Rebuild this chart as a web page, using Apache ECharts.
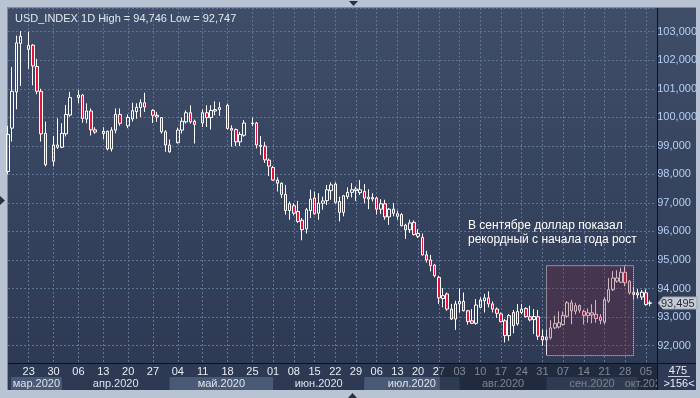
<!DOCTYPE html>
<html>
<head>
<meta charset="utf-8">
<script src="https://cdn.jsdelivr.net/npm/echarts@6/dist/echarts.min.js"></script>
<style>
  html, body { margin: 0; padding: 0; background: #b8c3d3; }
  #panel {
    position: absolute; left: 7px; top: 7px; width: 689px; height: 383px;
    background: linear-gradient(#3f4d69, #2d3953);
    border-left: 1px solid #7f8ba0; border-top: 1px solid #7f8ba0;
    box-sizing: border-box;
  }
  #chart { position: absolute; left: 0; top: 0; width: 700px; height: 398px; }
</style>
</head>
<body>
<div id="panel"></div>
<div id="chart"></div>
<script>
// дни (2020), пустые слоты = выходные без баров
const dates = [
  "03-17", "03-18", "03-19", "03-20", "03-21",
  "03-23", "03-24", "03-25", "03-26", "03-27", "03-28",
  "03-30", "03-31", "04-01", "04-02", "04-03", "04-04",
  "04-06", "04-07", "04-08", "04-09", "04-10", "04-11",
  "04-13", "04-14", "04-15", "04-16", "04-17", "04-18",
  "04-20", "04-21", "04-22", "04-23", "04-24", "04-25",
  "04-27", "04-28", "04-29", "04-30", "05-01", "05-02",
  "05-04", "05-05", "05-06", "05-07", "05-08", "05-09",
  "05-11", "05-12", "05-13", "05-14", "05-15", "05-16",
  "05-18", "05-19", "05-20", "05-21", "05-22", "05-23",
  "05-25", "05-26", "05-27", "05-28", "05-29",
  "06-01", "06-02", "06-03", "06-04", "06-05",
  "06-08", "06-09", "06-10", "06-11", "06-12",
  "06-15", "06-16", "06-17", "06-18", "06-19",
  "06-22", "06-23", "06-24", "06-25", "06-26",
  "06-29", "06-30", "07-01", "07-02", "07-03",
  "07-06", "07-07", "07-08", "07-09", "07-10",
  "07-13", "07-14", "07-15", "07-16", "07-17",
  "07-20", "07-21", "07-22", "07-23", "07-24",
  "07-27", "07-28", "07-29", "07-30", "07-31",
  "08-03", "08-04", "08-05", "08-06", "08-07",
  "08-10", "08-11", "08-12", "08-13", "08-14",
  "08-17", "08-18", "08-19", "08-20", "08-21",
  "08-24", "08-25", "08-26", "08-27", "08-28",
  "08-31", "09-01", "09-02", "09-03", "09-04",
  "09-07", "09-08", "09-09", "09-10", "09-11",
  "09-14", "09-15", "09-16", "09-17", "09-18",
  "09-21", "09-22", "09-23", "09-24", "09-25",
  "09-28", "09-29", "09-30", "10-01", "10-02",
  "10-05", "10-06", "10-07"
];

const opens = [
  98.10, 99.62, 100.89, 102.59, null,
  102.38, 102.53, 101.78, 100.91, 99.44, null,
  98.46, 99.03, 98.95, 99.42, 100.08, null,
  100.69, 100.78, 99.94, 100.22, 99.56, null,
  99.43, 99.51, 98.89, 99.55, 100.10, null,
  99.70, 99.94, 100.20, 100.34, 100.51, null,
  100.24, 100.07, 99.99, 99.49, 99.03, null,
  99.11, 99.55, 99.84, 100.16, 99.86, null,
  99.80, 100.16, 99.99, 100.22, 100.27, null,
  100.42, 99.61, 99.57, 99.14, 99.37, null,
  99.78, 99.80, 98.98, 98.99, 98.50,
  98.24, 97.80, 97.69, 97.30, 96.73,
  96.90, 96.70, 96.39, 96.09, 96.73,
  97.17, 96.64, 96.99, 97.08, 97.43,
  97.66, 97.05, 96.67, 97.22, 97.37,
  97.43, 97.36, 97.40, 97.14, 97.14,
  97.17, 96.78, 96.97, 96.51, 96.78,
  96.53, 96.59, 96.22, 96.06, 96.32,
  95.83, 95.79, 95.18, 95.00, 94.82,
  94.39, 93.65, 93.81, 93.28, 92.93,
  93.46, 93.55, 93.22, 92.87, 92.78,
  93.34, 93.57, 93.67, 93.46, 93.28,
  93.11, 92.87, 92.35, 93.16, 92.76,
  93.16, 93.30, 93.01, 92.91, 93.01,
  92.32, 92.20, 92.27, 92.62, 92.65,
  92.74, 93.03, 93.50, 93.20, 93.40,
  93.20, 93.05, 93.15, 93.10, 93.00,
  92.82, 93.56, 93.96, 94.26, 94.22,
  94.57, 94.26, 93.79, 93.85, 93.70,
  93.85, 93.48, null
];

const closes = [
  99.40, 100.91, 102.61, 102.84, null,
  102.52, 101.80, 100.91, 99.42, 98.34, null,
  99.03, 98.95, 99.44, 100.10, 100.69, null,
  100.78, 99.96, 100.22, 99.56, 99.48, null,
  99.51, 98.89, 99.55, 100.10, 99.79, null,
  99.99, 100.23, 100.35, 100.51, 100.36, null,
  100.07, 100.01, 99.49, 99.03, 98.79, null,
  99.55, 99.86, 100.16, 99.84, 99.75, null,
  100.16, 99.99, 100.24, 100.27, 100.34, null,
  99.61, 99.55, 99.14, 99.40, 99.80, null,
  99.80, 99.03, 99.02, 98.51, 98.29,
  97.80, 97.69, 97.30, 96.73, 96.97,
  96.64, 96.35, 96.06, 96.76, 97.13,
  96.62, 96.99, 97.07, 97.46, 97.63,
  97.02, 96.67, 97.25, 97.37, 97.46,
  97.49, 97.46, 97.17, 97.20, 97.19,
  96.78, 96.97, 96.51, 96.78, 96.64,
  96.62, 96.20, 96.06, 96.30, 95.89,
  95.93, 95.18, 95.00, 94.80, 94.45,
  93.67, 93.75, 93.28, 92.93, 93.46,
  93.55, 93.22, 92.84, 92.78, 93.42,
  93.60, 93.67, 93.46, 93.28, 93.13,
  92.84, 92.35, 93.05, 92.70, 93.19,
  93.28, 93.01, 92.90, 93.02, 92.33,
  92.20, 92.30, 92.62, 92.77, 92.80,
  93.06, 93.50, 93.22, 93.40, 93.24,
  93.06, 93.15, 93.07, 92.95, 92.88,
  93.61, 93.96, 94.37, 94.37, 94.57,
  94.20, 93.85, 93.87, 93.78, 93.87,
  93.44, 93.50, null
];

const lows = [
  98.00, 99.15, 100.28, 101.10, null,
  101.70, 101.12, 100.81, 99.15, 98.28, null,
  98.28, 98.89, 98.92, 99.33, 100.02, null,
  100.49, 99.81, 99.79, 99.36, 99.42, null,
  99.23, 98.84, 98.80, 99.44, 99.70, null,
  99.62, 99.85, 99.95, 100.01, 100.19, null,
  99.80, 99.84, 99.43, 98.79, 98.76, null,
  99.08, 99.43, 99.78, 99.78, 99.08, null,
  99.66, 99.66, 99.57, 100.07, 100.05, null,
  99.57, 98.97, 98.99, 98.99, 99.32, null,
  99.69, 98.91, 98.68, 98.40, 97.94,
  97.78, 97.40, 97.17, 96.59, 96.41,
  96.56, 96.30, 95.69, 95.93, 96.47,
  96.59, 96.41, 96.76, 96.93, 97.11,
  96.97, 96.35, 96.53, 97.13, 97.19,
  97.07, 97.28, 96.99, 96.78, 97.05,
  96.59, 96.61, 96.41, 96.23, 96.53,
  96.41, 96.18, 95.74, 95.95, 95.86,
  95.77, 95.15, 94.91, 94.60, 94.39,
  93.46, 93.34, 93.22, 92.90, 92.55,
  93.16, 93.20, 92.73, 92.76, 92.73,
  93.32, 93.16, 93.34, 93.16, 92.97,
  92.81, 92.11, 92.17, 92.43, 92.70,
  93.10, 92.99, 92.85, 92.41, 92.20,
  92.00, 91.68, 92.21, 92.58, 92.60,
  92.70, 92.97, 92.75, 93.09, 93.15,
  92.74, 92.80, 92.78, 92.80, 92.75,
  92.75, 93.50, 93.91, 94.20, 94.20,
  94.08, 93.79, 93.61, 93.65, 93.60,
  93.40, 93.38, null
];

const highs = [
  99.70, 101.76, 102.86, 103.02, null,
  103.00, 102.56, 102.05, 101.00, 99.85, null,
  99.35, 99.96, 99.79, 100.43, 100.89, null,
  100.95, 100.81, 100.49, 100.31, 99.65, null,
  99.65, 99.53, 99.65, 100.31, 100.31, null,
  100.10, 100.51, 100.49, 100.63, 100.86, null,
  100.28, 100.19, 100.01, 99.55, 99.22, null,
  99.64, 99.99, 100.24, 100.42, 99.92, null,
  100.27, 100.42, 100.42, 100.56, 100.53, null,
  100.48, 99.72, 99.61, 99.49, 99.90, null,
  99.99, 99.84, 99.34, 99.14, 98.56,
  98.29, 97.90, 97.72, 97.63, 97.05,
  96.99, 97.07, 96.47, 96.82, 97.46,
  97.40, 97.34, 97.22, 97.63, 97.72,
  97.72, 97.22, 97.28, 97.55, 97.69,
  97.57, 97.80, 97.66, 97.48, 97.34,
  97.22, 97.13, 97.11, 96.82, 96.99,
  96.73, 96.64, 96.27, 96.41, 96.39,
  96.08, 95.93, 95.32, 95.18, 94.86,
  94.45, 94.02, 93.86, 93.46, 93.57,
  94.00, 93.86, 93.25, 93.28, 93.63,
  93.69, 93.81, 93.90, 93.55, 93.34,
  93.16, 92.93, 93.11, 93.25, 93.46,
  93.46, 93.34, 93.40, 93.28, 93.25,
  92.56, 92.56, 92.89, 93.05, 93.20,
  93.20, 93.56, 93.60, 93.50, 93.44,
  93.26, 93.30, 93.45, 93.60, 93.10,
  93.70, 94.37, 94.61, 94.64, 94.73,
  94.78, 94.29, 94.06, 93.98, 93.95,
  93.97, 93.58, null
];

const monthStarts = ["03-17", "04-01", "05-01", "06-01", "07-01", "08-03", "09-01", "10-01"];
const monthLabels = ["мар.2020", "апр.2020", "май.2020", "июн.2020", "июл.2020", "авг.2020", "сен.2020", "окт.2020"];

const titleText = "USD_INDEX 1D High = 94,746 Low = 92,747";
const noteText = "В сентябре доллар показал\nрекордный с начала года рост";
const lastPrice = 93.495;
const highlightFrom = "09-01";
const highlightTo = "09-30";
const highlightTop = 94.80;
const highlightBottom = 91.65;
const shadeFrom = "07-27";

const fmt = v => v.toFixed(3).replace(".", ",");
const isMonday = (d, i) => {
  if (highs[i] == null) return false;
  const [m, day] = d.split("-").map(Number);
  return new Date(Date.UTC(2020, m - 1, day)).getUTCDay() === 1;
};

const seriesData = dates.map((d, i) =>
  opens[i] == null ? "-" : [opens[i], closes[i], lows[i], highs[i]]
);

const gridLine = { show: true, lineStyle: { color: "#5f7396", type: [2, 2], width: 1 } };
const narrow = "'Liberation Sans Narrow', 'Liberation Sans', Arial, sans-serif";

const chart = echarts.init(document.getElementById("chart"));
chart.setOption({
  backgroundColor: "transparent",
  animation: false,
  title: {
    text: titleText,
    left: 10,
    top: 8,
    textStyle: { color: "#e2e8f0", fontSize: 11, fontWeight: "normal", fontFamily: narrow }
  },
  grid: { left: 8, top: 8, width: 649, height: 355 },
  xAxis: {
    type: "category",
    data: dates,
    boundaryGap: false,
    axisLine: { show: false },
    axisTick: { show: false },
    axisLabel: {
      interval: (i, v) => isMonday(v, i),
      formatter: v => v.split("-")[1],
      color: "#e8edf5",
      fontSize: 11,
      fontFamily: narrow,
      margin: 3
    },
    splitLine: Object.assign({ interval: (i, v) => isMonday(v, i) }, gridLine)
  },
  yAxis: {
    type: "value",
    position: "right",
    min: 91.39,
    max: 103.83,
    splitNumber: 12,
    axisLine: { show: false },
    axisTick: { show: false },
    axisLabel: {
      showMinLabel: false,
      showMaxLabel: false,
      formatter: v => (Number.isInteger(v) ? fmt(v) : ""),
      color: "#b3cff3",
      fontSize: 11,
      fontFamily: narrow,
      margin: 3,
      align: "left"
    },
    splitLine: gridLine
  },
  series: [{
    type: "candlestick",
    data: seriesData,
    barWidth: 3,
    clip: true,
    itemStyle: {
      color: "rgba(0,0,0,0)",
      color0: "#e3143e",
      borderColor: "#ffffff",
      borderColor0: "#ffffff",
      borderWidth: 1
    },
    markArea: {
      z: 5,
      silent: true,
      itemStyle: {
        color: "rgba(112,35,60,0.32)",
        borderColor: "#e6dce6",
        borderWidth: 1,
        borderType: [1, 1]
      },
      data: [[
        { xAxis: highlightFrom, yAxis: highlightTop },
        { xAxis: highlightTo, yAxis: highlightBottom }
      ]]
    }
  }]
});

// нижняя полоса месяцев и оформление рамки
const px = d => chart.convertToPixel({ xAxisIndex: 0 }, dates.indexOf(d));
const gLeft = 8, gRight = 657, axisY = 363, bandTop = 377, bandBottom = 390;
const elements = [];

monthStarts.forEach((m, k) => {
  const x0 = Math.max(px(m), gLeft + 3);
  const x1 = k + 1 < monthStarts.length ? px(monthStarts[k + 1]) : px(dates[dates.length - 1]);
  if (k % 2 === 0) {
    elements.push({
      type: "rect", z: 1,
      shape: { x: x0, y: bandTop, width: Math.min(x1, gRight) - x0, height: bandBottom - bandTop },
      style: { fill: "#4a5a76" }
    });
  }
  elements.push({
    type: "text", z: 2,
    style: {
      text: monthLabels[k], x: (x0 + x1) / 2, y: (bandTop + bandBottom) / 2 + 0.5,
      align: "center", verticalAlign: "middle",
      font: "11px " + narrow, fill: "#dde3ec"
    }
  });
});

// ярлык текущей цены на правой шкале
const priceY = Math.round(chart.convertToPixel({ yAxisIndex: 0 }, lastPrice));
const shadeX = px(shadeFrom) + 1;
elements.push(
  {
    type: "rect", z: 10,
    shape: { x: shadeX, y: axisY + 1, width: gRight - shadeX, height: bandBottom - axisY - 1 },
    style: { fill: "rgba(20,27,44,0.5)" }
  },
  {
    type: "rect", z: 11,
    shape: { x: gRight, y: axisY, width: 696 - gRight, height: bandBottom - axisY },
    style: { fill: "#2f3b56" }
  },
  {
    type: "line", z: 12,
    shape: { x1: gRight + 0.5, y1: 8, x2: gRight + 0.5, y2: bandBottom },
    style: { stroke: "#0d1118", lineWidth: 1 }
  },
  {
    type: "line", z: 12,
    shape: { x1: gLeft, y1: axisY + 0.5, x2: 696, y2: axisY + 0.5 },
    style: { stroke: "#0d1118", lineWidth: 1 }
  },
  {
    type: "polygon", z: 12,
    shape: { points: [[gRight + 1, priceY], [gRight + 6, priceY - 6], [697, priceY - 6], [697, priceY + 6], [gRight + 6, priceY + 6]] },
    style: { fill: "#c6cad2", stroke: "#9aa2b0", lineWidth: 1 }
  },
  {
    type: "text", z: 13,
    style: { text: fmt(lastPrice), x: 661, y: priceY + 0.5, verticalAlign: "middle", font: "11px " + narrow, fill: "#1f2a3e" }
  },
  {
    type: "text", z: 12,
    style: { text: "475", x: 678, y: 371, align: "center", verticalAlign: "middle", font: "11px " + narrow, fill: "#e8edf5" }
  },
  {
    type: "line", z: 12,
    shape: { x1: 668, y1: 376.5, x2: 690, y2: 376.5 },
    style: { stroke: "#c8d0dc", lineWidth: 1 }
  },
  {
    type: "text", z: 12,
    style: { text: ">156<", x: 679, y: 383.5, align: "center", verticalAlign: "middle", font: "11px " + narrow, fill: "#e8edf5" }
  },
  {
    type: "text", z: 12,
    style: { text: noteText, x: 468, y: 219, verticalAlign: "top", font: "12px 'Liberation Sans', Arial, sans-serif", fill: "#ffffff", lineHeight: 14 }
  },
  {
    type: "polygon", z: 12,
    shape: { points: [[349, 1], [358, 1], [353.5, 6]] },
    style: { fill: "#2a3142" }
  },
  {
    type: "polygon", z: 12,
    shape: { points: [[348, 398], [357, 398], [352.5, 393]] },
    style: { fill: "#2a3142" }
  },
  {
    type: "polygon", z: 12,
    shape: { points: [[0, 196], [0, 205], [5, 200.5]] },
    style: { fill: "#2a3142" }
  }
);

chart.setOption({ graphic: { elements: elements } });
</script>
</body>
</html>
